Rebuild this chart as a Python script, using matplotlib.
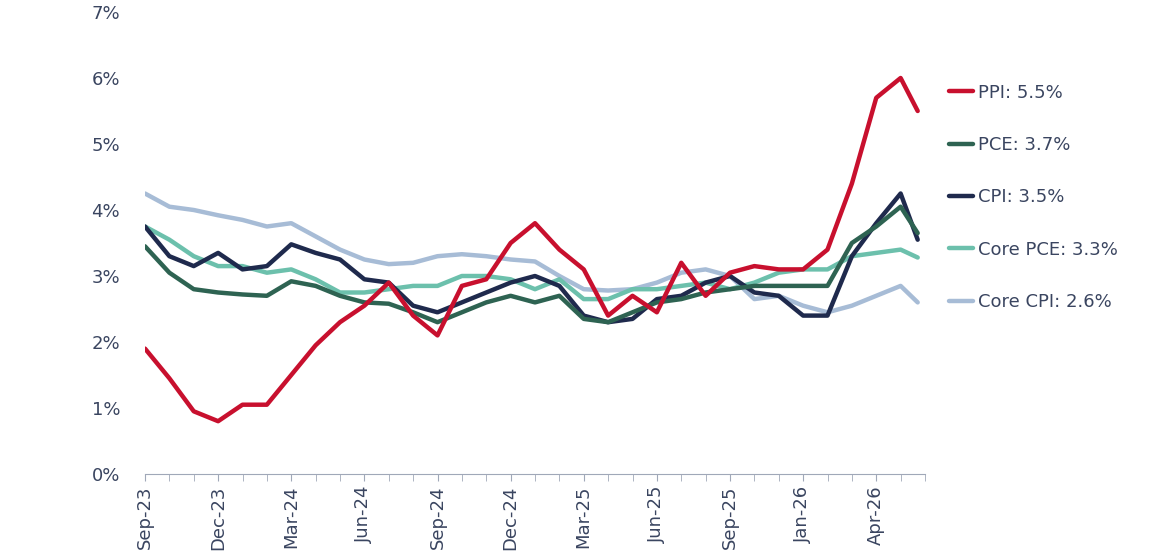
import matplotlib.pyplot as plt

months = list(range(32)) + [31.7]
ppi = [1.9, 1.45, 0.95, 0.8, 1.05, 1.05, 1.5, 1.95, 2.3, 2.55, 2.9, 2.4, 2.1, 2.85, 2.95, 3.5, 3.8,
       3.4, 3.1, 2.4, 2.7, 2.45, 3.2, 2.7, 3.05, 3.15, 3.1, 3.1, 3.4, 4.4, 5.7, 6.0, 5.5]
pce = [3.45, 3.05, 2.8, 2.75, 2.72, 2.7, 2.92, 2.85, 2.7, 2.6, 2.58, 2.45, 2.3, 2.45, 2.6, 2.7, 2.6,
       2.7, 2.35, 2.3, 2.45, 2.6, 2.65, 2.75, 2.8, 2.85, 2.85, 2.85, 2.85, 3.5, 3.75, 4.05, 3.65]
cpi = [3.75, 3.3, 3.15, 3.35, 3.1, 3.15, 3.48, 3.35, 3.25, 2.95, 2.9, 2.55, 2.45, 2.6, 2.75, 2.9, 3.0,
       2.85, 2.4, 2.3, 2.35, 2.65, 2.7, 2.9, 3.0, 2.75, 2.7, 2.4, 2.4, 3.3, 3.8, 4.25, 3.55]
core_pce = [3.75, 3.55, 3.3, 3.15, 3.15, 3.05, 3.1, 2.95, 2.75, 2.75, 2.8, 2.85, 2.85, 3.0, 3.0, 2.95, 2.8,
            2.95, 2.65, 2.65, 2.8, 2.8, 2.85, 2.9, 2.8, 2.9, 3.05, 3.1, 3.1, 3.3, 3.35, 3.4, 3.28]
core_cpi = [4.25, 4.05, 4.0, 3.92, 3.85, 3.75, 3.8, 3.6, 3.4, 3.25, 3.18, 3.2, 3.3, 3.33, 3.3, 3.25, 3.22,
            3.0, 2.8, 2.78, 2.8, 2.9, 3.05, 3.1, 3.0, 2.65, 2.7, 2.55, 2.45, 2.55, 2.7, 2.85, 2.6]

tick_pos = [0, 3, 6, 9, 12, 15, 18, 21, 24, 27, 30]
tick_labels = ["Sep-23", "Dec-23", "Mar-24", "Jun-24", "Sep-24", "Dec-24", "Mar-25",
               "Jun-25", "Sep-25", "Jan-26", "Apr-26"]

series = [
    ("PPI: 5.5%", ppi, "#c8102e"),
    ("PCE: 3.7%", pce, "#2e6352"),
    ("CPI: 3.5%", cpi, "#1f2a4d"),
    ("Core PCE: 3.3%", core_pce, "#6cc0ac"),
    ("Core CPI: 2.6%", core_cpi, "#a7bcd6"),
]

fig = plt.figure(figsize=(11.7, 5.57), dpi=100)
ax = fig.add_axes([145 / 1170, 1 - 474 / 557, 780 / 1170, 462 / 557])

# draw back to front so PPI sits on top
for label, vals, color in reversed(series):
    ax.plot(months, vals, color=color, lw=3.2, solid_capstyle="round", label=label)

ax.set_xlim(0, 32)
ax.set_ylim(0, 7)
ax.set_yticks(range(8))
ax.set_yticklabels([f"{i}%" for i in range(8)])
ax.set_xticks(tick_pos)
ax.set_xticklabels(tick_labels, rotation=90)
ax.set_xticks(range(33), minor=True)
for s in ["top", "right", "left"]:
    ax.spines[s].set_visible(False)
ax.spines["bottom"].set_color("#a0a8b8")
ax.tick_params(axis="y", length=0, labelsize=13, colors="#3a4560", pad=18)
ax.tick_params(axis="x", which="both", length=5, color="#a0a8b8", labelsize=13, colors="#3a4560")

handles, labels = ax.get_legend_handles_labels()
ax.legend(handles[::-1], labels[::-1], loc="upper left", bbox_to_anchor=(1.01, 0.88),
          frameon=False, fontsize=13, handlelength=1.3, labelspacing=1.9,
          handletextpad=0.3, labelcolor="#3a4560")

fig.savefig("out.png", dpi=100)
